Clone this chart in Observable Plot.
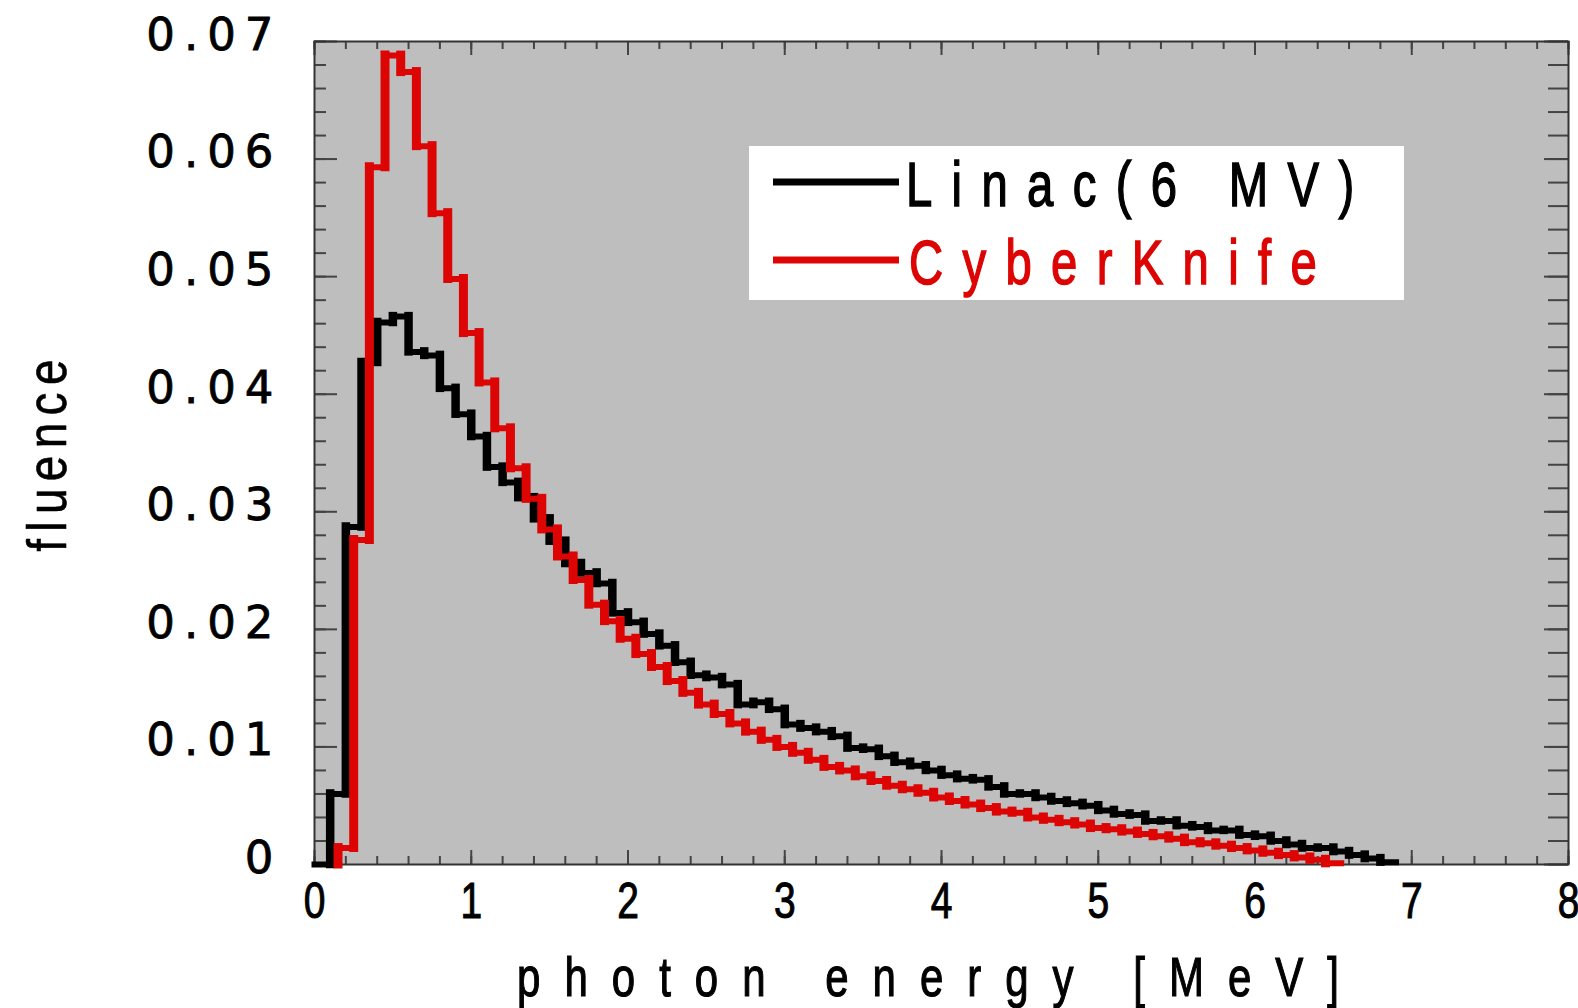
<!DOCTYPE html>
<html><head><meta charset="utf-8">
<script src="https://cdn.jsdelivr.net/npm/d3@7"></script>
<script src="https://cdn.jsdelivr.net/npm/@observablehq/plot@0.6"></script>
<style>html,body{margin:0;padding:0;background:#fff;}#chart{width:1578px;height:1008px;}</style>
</head><body><div id="chart"></div>
<script>
// ---- data ----
const binWidth = 0.1;
// Linac (6 MV): histogram bins starting at 0.0 MeV, 0.1 MeV wide
const linacStart = 0.0;
const linac = [
  0.0000, 0.0060, 0.0287, 0.0427, 0.0461, 0.0466, 0.0436, 0.0433, 0.0405, 0.0383,
  0.0364, 0.0338, 0.0325, 0.0312, 0.0294, 0.0275, 0.0256, 0.0248, 0.0239, 0.0214,
  0.0206, 0.0196, 0.0186, 0.0172, 0.0161, 0.0159, 0.0153, 0.0136, 0.0138, 0.0132,
  0.0119, 0.0116, 0.0113, 0.0109, 0.0099, 0.0098, 0.0092, 0.0087, 0.0084, 0.0080,
  0.0076, 0.0073, 0.0072, 0.0066, 0.0060, 0.0060, 0.0057, 0.0054, 0.0052, 0.0050,
  0.0046, 0.0043, 0.0042, 0.0037, 0.0037, 0.0033, 0.0032, 0.0029, 0.0029, 0.0025,
  0.0024, 0.0020, 0.0017, 0.0014, 0.0014, 0.0011, 0.0008, 0.0005, 0.0002
];
// CyberKnife: histogram bins starting at 0.15 MeV, 0.1 MeV wide
const cyberStart = 0.15;
const cyber = [
  0.0014, 0.0276, 0.0593, 0.0688, 0.0674, 0.0611, 0.0554, 0.0498, 0.0452, 0.0410,
  0.0371, 0.0337, 0.0311, 0.0285, 0.0262, 0.0242, 0.0221, 0.0207, 0.0192, 0.0179,
  0.0168, 0.0156, 0.0146, 0.0136, 0.0128, 0.0120, 0.0113, 0.0106, 0.0100, 0.0095,
  0.0089, 0.0083, 0.0080, 0.0075, 0.0071, 0.0067, 0.0064, 0.0061, 0.0057, 0.0054,
  0.0051, 0.0048, 0.0045, 0.0044, 0.0040, 0.0038, 0.0036, 0.0034, 0.0031, 0.0030,
  0.0028, 0.0026, 0.0024, 0.0022, 0.0019, 0.0018, 0.0016, 0.0014, 0.0012, 0.0010,
  0.0008, 0.0006, 0.0004, 0.0001
];
const seriesNames = ["Linac(6 MV)", "CyberKnife"];
const seriesColors = ["#000000", "#dd0404"];
const xMajor = [0, 1, 2, 3, 4, 5, 6, 7, 8];
const xMinor = d3.range(0, 41).map(i => i * 0.2);
const yMajor = [0, 0.01, 0.02, 0.03, 0.04, 0.05, 0.06, 0.07];
const yMinor = d3.range(0, 36).map(i => i * 0.002);
const xTitle = "photon energy [MeV]";
const yTitle = "fluence";

// ---- build step rows ----
function stepRows(start, values, withBase) {
  const rows = values.map((v, i) => ({x: start + i * binWidth, y: v}));
  rows.push({x: start + values.length * binWidth, y: values[values.length - 1]});
  if (withBase) rows.unshift({x: start, y: 0});
  return rows;
}
function stepVerticals(start, values, withBase) {
  const out = [];
  if (withBase) out.push({x: start, y1: 0, y2: values[0]});
  for (let i = 1; i < values.length; i++) out.push({x: start + i * binWidth, y1: values[i - 1], y2: values[i]});
  return out;
}
const linacRows = stepRows(linacStart, linac, false);
const linacV = stepVerticals(linacStart, linac, false);
const cyberRows = stepRows(cyberStart, cyber, true);
const cyberV = stepVerticals(cyberStart, cyber, true);

// ---- layout ----
const W = 1578, H = 1008, mL = 314, mR = 10, mT = 41, mB = 144;
const fh = H - mT - mB, fw = W - mL - mR;
const tickColor = "#444";

const plot = Plot.plot({
  width: W, height: H, marginLeft: mL, marginRight: mR, marginTop: mT, marginBottom: mB,
  x: {domain: [0, 8]},
  y: {domain: [0, 0.07]},
  style: {background: "#ffffff", overflow: "visible"},
  marks: [
    Plot.frame({fill: "#bebebe"}),
    Plot.tickX(xMinor, {x: d => d, insetTop: fh - 8, stroke: tickColor, strokeWidth: 2}),
    Plot.tickX(xMajor, {x: d => d, insetTop: fh - 14, stroke: tickColor, strokeWidth: 2}),
    Plot.tickX(xMinor, {x: d => d, insetBottom: fh - 8, stroke: tickColor, strokeWidth: 2}),
    Plot.tickX(xMajor, {x: d => d, insetBottom: fh - 14, stroke: tickColor, strokeWidth: 2}),
    Plot.tickY(yMinor, {y: d => d, insetRight: fw - 12, stroke: tickColor, strokeWidth: 2}),
    Plot.tickY(yMajor, {y: d => d, insetRight: fw - 23, stroke: tickColor, strokeWidth: 2}),
    Plot.tickY(yMinor, {y: d => d, insetLeft: fw - 20, stroke: tickColor, strokeWidth: 2}),
    Plot.tickY(yMajor, {y: d => d, insetLeft: fw - 24, stroke: tickColor, strokeWidth: 2}),
    Plot.frame({stroke: "#333", strokeWidth: 2}),
    Plot.line(linacRows, {x: "x", y: "y", curve: "step-after", stroke: seriesColors[0], strokeWidth: 6, strokeLinejoin: "miter", strokeLinecap: "square"}),
    Plot.ruleX(linacV, {x: "x", y1: "y1", y2: "y2", stroke: seriesColors[0], strokeWidth: 8.5, strokeLinecap: "square"}),
    Plot.line(cyberRows, {x: "x", y: "y", curve: "step-after", stroke: seriesColors[1], strokeWidth: 6, strokeLinejoin: "miter", strokeLinecap: "square"}),
    Plot.ruleX(cyberV, {x: "x", y1: "y1", y2: "y2", stroke: seriesColors[1], strokeWidth: 9, strokeLinecap: "square"}),
    Plot.axisX({ticks: xMajor, tickSize: 0, tickPadding: 18, fontSize: 50, fontFamily: "Liberation Sans", label: null, tickFormat: d => String(d), fill: "#000"}),
    Plot.axisY({ticks: yMajor, tickSize: 0, tickPadding: 32, fontSize: 45, fontFamily: "DejaVu Sans", label: null, dy: -6, fill: "#000",
      tickFormat: d => d === 0 ? "0" : d.toFixed(2)})
  ]
});
document.getElementById("chart").appendChild(plot);

const svg = d3.select(plot);
svg.selectAll('g[aria-label="x-axis tick label"] text')
  .attr("transform", function() { return (this.getAttribute("transform") || "") + " scale(0.78,1)"; })
  .attr("stroke", "#000").attr("stroke-width", 1);
svg.selectAll('g[aria-label="y-axis tick label"] text')
  .style("letter-spacing", "9px").attr("stroke", "#000").attr("stroke-width", 0.8);

// axis titles
svg.append("text").text(xTitle)
  .attr("transform", "translate(940,996) scale(0.75,1)")
  .attr("text-anchor", "middle")
  .attr("font-family", "Liberation Sans").attr("font-size", 56)
  .style("letter-spacing", "32px").attr("fill", "#000").attr("stroke", "#000").attr("stroke-width", 1.2);
svg.append("text").text(yTitle)
  .attr("transform", "translate(66,452) rotate(-90) scale(0.82,1)")
  .attr("text-anchor", "middle")
  .attr("font-family", "Liberation Sans").attr("font-size", 56)
  .style("letter-spacing", "9px").attr("fill", "#000").attr("stroke", "#000").attr("stroke-width", 0.6);

// legend
const lg = svg.append("g");
lg.append("rect").attr("x", 749).attr("y", 146).attr("width", 655).attr("height", 154).attr("fill", "#fff");
const legendY = [182, 260], legendBase = [206, 284];
seriesNames.forEach((name, i) => {
  lg.append("line").attr("x1", 773).attr("x2", 899).attr("y1", legendY[i]).attr("y2", legendY[i])
    .attr("stroke", seriesColors[i]).attr("stroke-width", 7);
  lg.append("text").text(name)
    .attr("transform", `translate(${906 + i * 3},${legendBase[i]}) scale(0.75,1)`)
    .attr("text-anchor", "start")
    .attr("font-family", "Liberation Sans").attr("font-size", 63)
    .style("letter-spacing", "25.8px").attr("fill", seriesColors[i])
    .attr("stroke", seriesColors[i]).attr("stroke-width", 1.5);
});
</script>
</body></html>
